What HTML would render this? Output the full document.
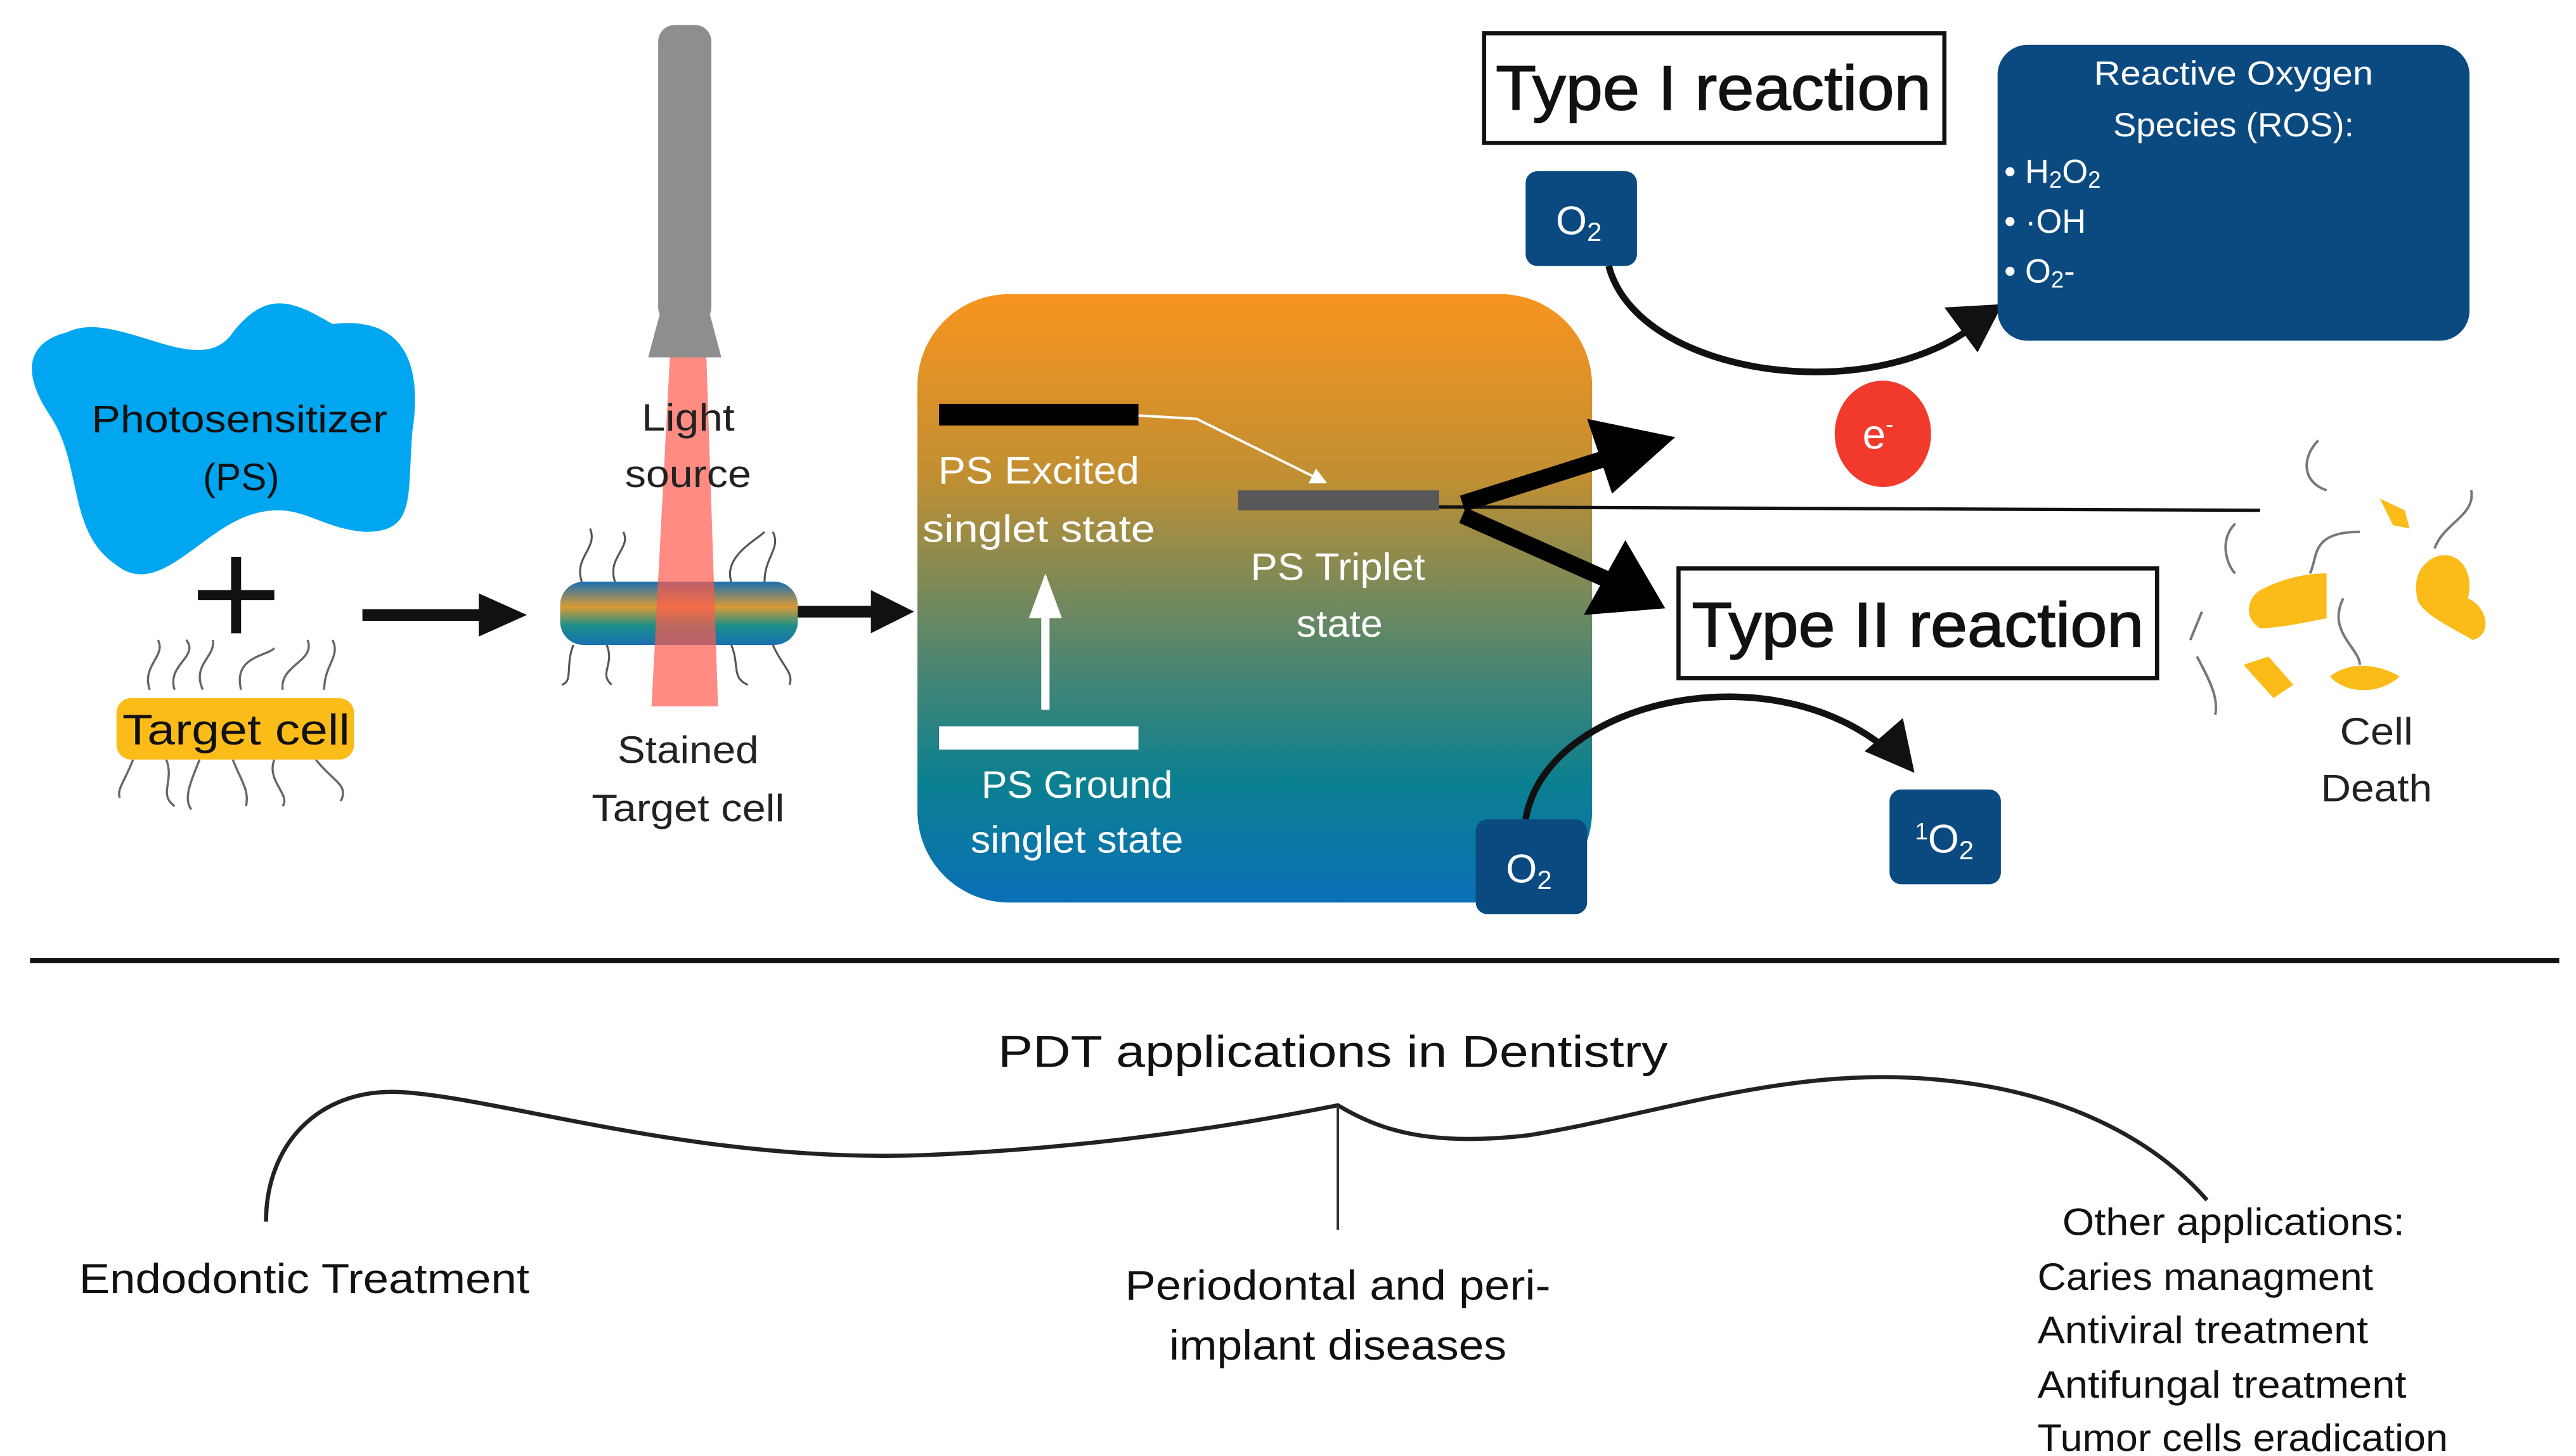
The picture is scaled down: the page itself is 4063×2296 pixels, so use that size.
<!DOCTYPE html>
<html><head><meta charset="utf-8">
<style>
html,body{margin:0;padding:0;background:#fff;}
svg{display:block;}
text{font-family:"Liberation Sans",sans-serif;}
</style></head>
<body>
<svg width="4063" height="2296" viewBox="0 0 1550 876" xmlns="http://www.w3.org/2000/svg">
<defs>
<linearGradient id="bg" x1="0" y1="0" x2="0" y2="1">
<stop offset="0" stop-color="#f8941f"/>
<stop offset="0.3" stop-color="#c18f32"/>
<stop offset="0.6" stop-color="#4f8670"/>
<stop offset="0.8" stop-color="#0b8090"/>
<stop offset="1" stop-color="#0a6fb8"/>
</linearGradient>
<linearGradient id="cap" x1="0" y1="0" x2="0" y2="1">
<stop offset="0" stop-color="#1a6fb0"/>
<stop offset="0.4" stop-color="#d99a35"/>
<stop offset="0.7" stop-color="#1a8f8a"/>
<stop offset="1" stop-color="#1a6fb0"/>
</linearGradient>
<marker id="ah" markerWidth="10" markerHeight="10" refX="6" refY="5" orient="auto" markerUnits="userSpaceOnUse">
<path d="M0,0 L10,5 L0,10 z" fill="#fff"/>
</marker>
</defs>

<!-- Photosensitizer blob -->
<path d="M40,200 C70,185 120,230 140,200 C160,175 175,180 200,195 C240,190 255,215 248,260 C245,300 250,320 220,320 C190,318 180,300 150,310 C120,320 95,360 70,340 C40,320 50,280 30,250 C10,220 20,205 40,200 z" fill="#00a6f0"/>
<text x="144" y="260" font-size="23" text-anchor="middle" fill="#111" textLength="178" lengthAdjust="spacingAndGlyphs">Photosensitizer</text>
<text x="145" y="295" font-size="23" text-anchor="middle" fill="#111">(PS)</text>
<rect x="119" y="355" width="46" height="6" fill="#111"/>
<rect x="139" y="335" width="6" height="46" fill="#111"/>

<!-- target cell hairs -->
<g stroke="#666" stroke-width="1.3" fill="none">
<path d="M90,415 C85,400 100,395 95,385"/><path d="M105,415 C100,400 120,395 112,385"/><path d="M122,415 C115,400 130,395 128,385"/>
<path d="M145,415 C140,395 160,395 165,390"/><path d="M170,415 C168,400 190,398 185,385"/><path d="M195,415 C195,400 205,395 200,385"/>
<path d="M80,457 C75,470 70,475 72,480"/><path d="M100,457 C105,470 95,478 105,485"/><path d="M120,457 C115,470 110,480 115,487"/>
<path d="M140,457 C145,470 150,475 148,485"/><path d="M165,457 C160,470 175,478 170,485"/><path d="M190,457 C200,470 210,472 205,482"/>
</g>
<rect x="70" y="420" width="143" height="37" rx="9" fill="#fbbc1a"/>
<text x="142" y="448" font-size="26" text-anchor="middle" fill="#111" textLength="137" lengthAdjust="spacingAndGlyphs">Target cell</text>

<!-- arrow 1 -->
<line x1="218" y1="370" x2="292" y2="370" stroke="#111" stroke-width="7"/>
<path d="M288,357 L317,370 L288,383 z" fill="#111"/>

<!-- light source -->
<rect x="396" y="15" width="32" height="180" rx="10" fill="#8e8e8e"/>
<path d="M398,185 L426,185 L434,215 L390,215 z" fill="#8e8e8e"/>
<g stroke="#555" stroke-width="1.2" fill="none">
<path d="M350,350 C345,335 360,330 355,318"/><path d="M370,350 C365,335 380,330 375,320"/><path d="M440,350 C435,335 455,325 460,320"/><path d="M460,350 C460,335 470,330 465,320"/>
<path d="M345,388 C340,400 345,410 338,412"/><path d="M365,388 C370,400 360,405 368,412"/><path d="M440,388 C445,400 440,408 450,412"/><path d="M465,388 C470,400 478,405 475,412"/>
</g>
<rect x="337" y="350" width="143" height="38" rx="14" fill="url(#cap)"/>
<path d="M403,215 L425,215 L432,425 L392,425 z" fill="#ff5a4e" opacity="0.7"/>
<text x="414" y="259" font-size="23" text-anchor="middle" fill="#222" textLength="56" lengthAdjust="spacingAndGlyphs">Light</text>
<text x="414" y="293" font-size="23" text-anchor="middle" fill="#222" textLength="76" lengthAdjust="spacingAndGlyphs">source</text>
<text x="414" y="459" font-size="23" text-anchor="middle" fill="#222" textLength="85" lengthAdjust="spacingAndGlyphs">Stained</text>
<text x="414" y="494" font-size="23" text-anchor="middle" fill="#222" textLength="116" lengthAdjust="spacingAndGlyphs">Target cell</text>

<!-- arrow 2 -->
<line x1="480" y1="368" x2="528" y2="368" stroke="#111" stroke-width="7"/>
<path d="M524,355 L550,368 L524,381 z" fill="#111"/>

<!-- gradient box -->
<rect x="552" y="177" width="406" height="366" rx="55" fill="url(#bg)"/>
<rect x="565" y="243" width="120" height="13" fill="#000"/>
<polyline points="685,250 720,252 795,289" fill="none" stroke="#fff" stroke-width="1.5" marker-end="url(#ah)"/>
<text x="625" y="291" font-size="23" text-anchor="middle" fill="#fff" textLength="121" lengthAdjust="spacingAndGlyphs">PS Excited</text>
<text x="625" y="326" font-size="23" text-anchor="middle" fill="#fff" textLength="140" lengthAdjust="spacingAndGlyphs">singlet state</text>
<rect x="745" y="295" width="121" height="12" fill="#585858"/>
<text x="805" y="349" font-size="23" text-anchor="middle" fill="#fff" textLength="105" lengthAdjust="spacingAndGlyphs">PS Triplet</text>
<text x="806" y="383" font-size="23" text-anchor="middle" fill="#fff" textLength="52" lengthAdjust="spacingAndGlyphs">state</text>
<line x1="629" y1="427" x2="629" y2="368" stroke="#fff" stroke-width="5"/>
<path d="M619,372 L629,345 L639,372 z" fill="#fff"/>
<rect x="565" y="437" width="120" height="14" fill="#fff"/>
<text x="648" y="480" font-size="23" text-anchor="middle" fill="#fff" textLength="115" lengthAdjust="spacingAndGlyphs">PS Ground</text>
<text x="648" y="513" font-size="23" text-anchor="middle" fill="#fff" textLength="128" lengthAdjust="spacingAndGlyphs">singlet state</text>

<!-- thin line -->
<line x1="866" y1="305" x2="1360" y2="307" stroke="#111" stroke-width="2"/>
<!-- thick arrows -->
<line x1="880" y1="303" x2="975" y2="273" stroke="#000" stroke-width="10"/>
<path d="M955,252 L1008,263 L970,297 z" fill="#000"/>
<line x1="880" y1="310" x2="970" y2="350" stroke="#000" stroke-width="10"/>
<path d="M978,325 L1002,366 L953,370 z" fill="#000"/>

<!-- Type I -->
<rect x="893" y="20" width="277" height="66" fill="#fff" stroke="#111" stroke-width="2.5"/>
<text x="1031" y="66" font-size="38" text-anchor="middle" fill="#111" stroke="#111" stroke-width="0.6" textLength="262" lengthAdjust="spacingAndGlyphs">Type I reaction</text>
<rect x="918" y="103" width="67" height="57" rx="7" fill="#0b4a80"/>
<text x="950" y="141" font-size="24" text-anchor="middle" fill="#fff">O<tspan font-size="16" dy="4">2</tspan></text>
<path d="M968,160 C985,225 1120,245 1185,198" fill="none" stroke="#111" stroke-width="4"/>
<path d="M1170,185 L1205,183 L1190,212 z" fill="#111"/>

<!-- ROS box -->
<rect x="1202" y="27" width="284" height="178" rx="18" fill="#0b4a80"/>
<text x="1344" y="51" font-size="20" text-anchor="middle" fill="#fff" textLength="168" lengthAdjust="spacingAndGlyphs">Reactive Oxygen</text>
<text x="1344" y="82" font-size="20" text-anchor="middle" fill="#fff" textLength="145" lengthAdjust="spacingAndGlyphs">Species (ROS):</text>
<text x="1206" y="110" font-size="20" fill="#fff">• H<tspan font-size="14" dy="3">2</tspan><tspan dy="-3">O</tspan><tspan font-size="14" dy="3">2</tspan></text>
<text x="1206" y="140" font-size="20" fill="#fff">• ·OH</text>
<text x="1206" y="170" font-size="20" fill="#fff">• O<tspan font-size="14" dy="3">2</tspan><tspan dy="-3">-</tspan></text>

<!-- e- -->
<ellipse cx="1133" cy="261" rx="29" ry="32" fill="#f23a2c"/>
<text x="1130" y="270" font-size="25" text-anchor="middle" fill="#fff">e<tspan font-size="14" dy="-10">-</tspan></text>

<!-- Type II -->
<rect x="1010" y="342" width="288" height="66" fill="#fff" stroke="#111" stroke-width="2.5"/>
<text x="1154" y="389" font-size="38" text-anchor="middle" fill="#111" stroke="#111" stroke-width="0.6" textLength="272" lengthAdjust="spacingAndGlyphs">Type II reaction</text>
<path d="M918,493 C930,420 1070,390 1140,455" fill="none" stroke="#111" stroke-width="4"/>
<path d="M1122,452 L1152,465 L1145,432 z" fill="#111"/>
<rect x="888" y="493" width="67" height="57" rx="7" fill="#0b4a80"/>
<text x="920" y="531" font-size="24" text-anchor="middle" fill="#fff">O<tspan font-size="16" dy="4">2</tspan></text>
<rect x="1137" y="475" width="67" height="57" rx="7" fill="#0b4a80"/>
<text x="1170" y="513" font-size="24" text-anchor="middle" fill="#fff"><tspan font-size="14" dy="-8">1</tspan><tspan dy="8">O</tspan><tspan font-size="16" dy="4">2</tspan></text>

<!-- cell death -->
<g stroke="#777" stroke-width="1.5" fill="none">
<path d="M1395,265 C1385,275 1385,290 1400,295"/>
<path d="M1345,315 C1335,325 1340,340 1345,345"/>
<path d="M1420,320 C1390,320 1395,335 1390,345"/>
<path d="M1487,295 C1490,310 1470,315 1465,330"/>
<path d="M1410,360 C1400,380 1420,390 1420,400"/>
<path d="M1325,368 L1318,385"/>
<path d="M1322,395 C1330,410 1335,420 1333,430"/>
</g>
<g fill="#fbbc1a">
<path d="M1432,300 L1447,307 L1450,318 L1440,316 z"/>
<path d="M1360,355 C1380,345 1395,345 1400,345 L1400,372 C1385,375 1370,378 1360,378 C1350,372 1352,360 1360,355 z"/>
<path d="M1462,337 C1475,328 1490,340 1485,360 C1497,365 1500,382 1488,385 C1470,375 1460,370 1455,362 C1452,350 1455,342 1462,337 z"/>
<path d="M1350,400 L1365,395 L1380,412 L1368,420 z"/>
<path d="M1402,407 C1415,397 1432,400 1444,407 C1432,418 1412,418 1402,407 z"/>
</g>
<text x="1430" y="448" font-size="23" text-anchor="middle" fill="#222" textLength="44" lengthAdjust="spacingAndGlyphs">Cell</text>
<text x="1430" y="482" font-size="23" text-anchor="middle" fill="#222" textLength="67" lengthAdjust="spacingAndGlyphs">Death</text>

<!-- divider -->
<line x1="18" y1="578" x2="1540" y2="578" stroke="#111" stroke-width="3"/>

<!-- bottom -->
<text x="802" y="642" font-size="27" text-anchor="middle" fill="#111" textLength="403" lengthAdjust="spacingAndGlyphs">PDT applications in Dentistry</text>
<path d="M160,735 C160,690 190,655 240,657 C300,660 420,700 555,695 C680,690 780,670 805,665 C830,680 860,690 920,683 C1000,670 1080,640 1170,650 C1250,658 1300,690 1328,722" fill="none" stroke="#222" stroke-width="2.5"/>
<line x1="805" y1="665" x2="805" y2="740" stroke="#333" stroke-width="1.5"/>
<text x="183" y="778" font-size="25" text-anchor="middle" fill="#111" textLength="271" lengthAdjust="spacingAndGlyphs">Endodontic Treatment</text>
<text x="805" y="782" font-size="25" text-anchor="middle" fill="#111" textLength="256" lengthAdjust="spacingAndGlyphs">Periodontal and peri-</text>
<text x="805" y="818" font-size="25" text-anchor="middle" fill="#111" textLength="203" lengthAdjust="spacingAndGlyphs">implant diseases</text>
<text x="1344" y="743" font-size="23" text-anchor="middle" fill="#111" textLength="206" lengthAdjust="spacingAndGlyphs">Other applications:</text>
<text x="1226" y="776" font-size="23" fill="#111" textLength="202" lengthAdjust="spacingAndGlyphs">Caries managment</text>
<text x="1226" y="808" font-size="23" fill="#111" textLength="199" lengthAdjust="spacingAndGlyphs">Antiviral treatment</text>
<text x="1226" y="841" font-size="23" fill="#111" textLength="222" lengthAdjust="spacingAndGlyphs">Antifungal treatment</text>
<text x="1226" y="873" font-size="23" fill="#111" textLength="247" lengthAdjust="spacingAndGlyphs">Tumor cells eradication</text>
</svg>
</body></html>
